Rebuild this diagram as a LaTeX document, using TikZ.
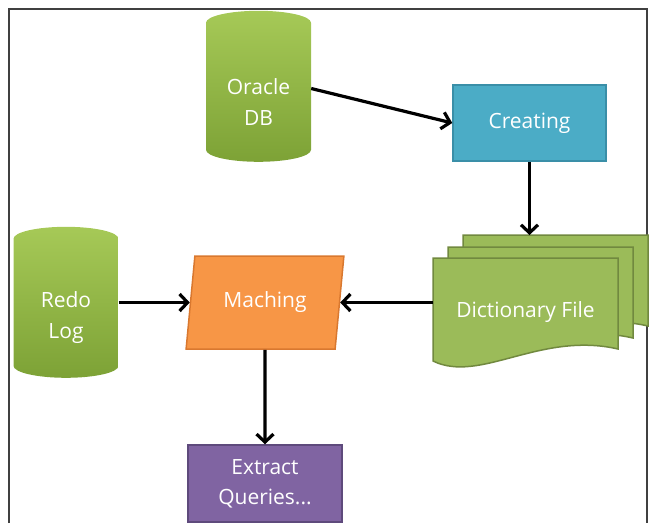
\documentclass[tikz,border=0pt]{standalone}
\usepackage{fontspec}
\setmainfont{Open Sans}
\usetikzlibrary{arrows.meta,shapes.geometric}

\definecolor{dbtop}{HTML}{A6C957}
\definecolor{dbbot}{HTML}{7DA236}
\definecolor{dictfill}{HTML}{9BBB59}
\definecolor{dictline}{HTML}{71893F}
\definecolor{createfill}{HTML}{4BACC6}
\definecolor{createline}{HTML}{3A8FA8}
\definecolor{matchfill}{HTML}{F79646}
\definecolor{matchline}{HTML}{D9782F}
\definecolor{queryfill}{HTML}{8064A2}
\definecolor{queryline}{HTML}{5E4A7C}

\begin{document}
\begin{tikzpicture}[x=1pt,y=-1pt,>={Straight Barb[length=8pt,width=17pt]},
  box/.style={draw,line width=1.5pt,minimum width=153pt,minimum height=76pt,align=center,text=white,font=\fontsize{21}{30}\selectfont},
  db/.style={cylinder,shape border rotate=90,aspect=3.6,top color=dbtop,bottom color=dbbot,minimum width=105pt,minimum height=151pt},
  dbtext/.style={text=white,align=center,font=\fontsize{21}{31}\selectfont,yshift=-7.5pt},
  page/.style={fill=dictfill,draw=dictline,line width=1.5pt},
  flow/.style={->,line width=3.2pt}]
\useasboundingbox (0,0) rectangle (654,523);
\draw[line width=1.3pt,black!75] (9,523) |- (647,9) -- (647,523);

\node[db,label={[dbtext]center:Oracle\\DB}] (oracle) at (258.5,94.5) {};
\node[db,label={[dbtext]center:Redo\\Log}] (redo) at (66,310.5) {};
\node[box,fill=createfill,draw=createline] (creating) at (529.5,123) {Creating};
\node[box,trapezium,trapezium left angle=78.5,trapezium right angle=101.5,trapezium stretches=true,fill=matchfill,draw=matchline,minimum width=158pt,minimum height=93pt] (maching) at (265,302.5) {Maching};

\foreach \dx/\dy in {30/-23,15/-11,0/0}
  \draw[page,shift={(\dx,\dy)}] (433,258) -- (618,258) -- (618,349) .. controls (540,331) and (480,384) .. (433,361) -- cycle;
\node[text=white,font=\fontsize{21}{30}\selectfont,minimum width=185pt] (dict) at (525.5,312) {Dictionary File};
\coordinate (stack) at (530,235);

\node[box,fill=queryfill,draw=queryline,minimum width=154pt,minimum height=77pt] (extract) at (265,483.5) {Extract\\Queries...};

\draw[flow] ([yshift=6pt]oracle.east) -- (creating.west);
\draw[flow] (creating.south) -- (creating.south |- stack);
\draw[flow] (dict.west |- maching.east) -- (maching.east);
\draw[flow] (maching.west -| redo.east) -- (maching.west);
\draw[flow] (maching.south) -- (extract.north);
\end{tikzpicture}
\end{document}
